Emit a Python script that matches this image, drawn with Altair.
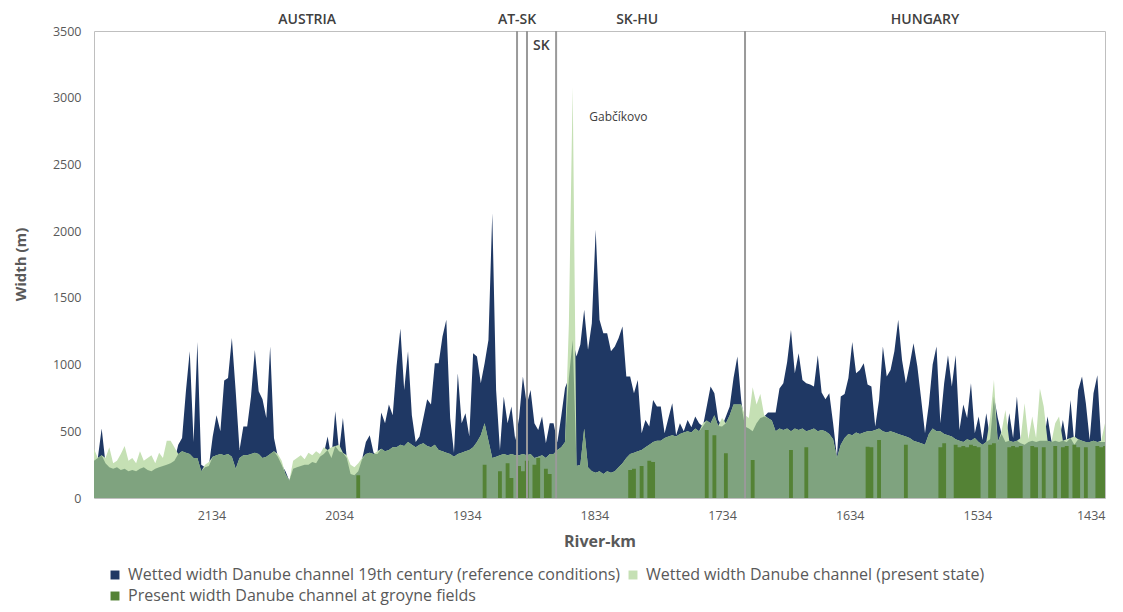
import altair as alt
import pandas as pd

# River-km positions (3 km spacing, from Austrian border downstream to km 1434)
km = list(range(2226, 1433, -3))

# Wetted width 19th century (reference conditions), m
ref_width = [
    280, 300, 520, 260, 230, 220, 230, 210, 220, 200,
    210, 200, 220, 230, 210, 200, 220, 230, 240, 250,
    260, 280, 400, 450, 800, 1100, 420, 1170, 250, 230,
    240, 460, 620, 500, 880, 900, 1200, 800, 360, 535,
    535, 760, 1110, 800, 740, 600, 1135, 450, 310, 250,
    200, 130, 220, 230, 240, 250, 250, 270, 260, 310,
    330, 460, 300, 650, 350, 600, 300, 180, 170, 200,
    290, 420, 470, 340, 330, 640, 560, 700, 620, 985,
    1270, 810, 1100, 620, 420, 460, 600, 740, 700, 1010,
    1010, 1210, 1335, 600, 340, 935, 560, 635, 460, 1085,
    1060, 860, 1010, 1185, 2135, 810, 360, 760, 560, 685,
    435, 600, 910, 700, 810, 560, 510, 610, 410, 560,
    560, 420, 610, 825, 900, 1185, 1060, 1150, 1410, 1110,
    1310, 2010, 1335, 1235, 1235, 1100, 1135, 1200, 1285, 910,
    910, 785, 885, 485, 585, 535, 735, 685, 685, 485,
    600, 710, 470, 560, 500, 585, 530, 610, 560, 535,
    685, 835, 785, 585, 535, 610, 685, 900, 1060, 735,
    535, 520, 500, 560, 600, 610, 640, 640, 640, 820,
    860, 1020, 1260, 935, 1085, 885, 860, 850, 835, 1070,
    790, 740, 785, 560, 310, 760, 780, 900, 1170, 935,
    960, 1010, 850, 835, 535, 735, 1135, 910, 960, 1100,
    1335, 1035, 860, 1000, 1160, 985, 740, 485, 700, 1000,
    1135, 560, 860, 1070, 835, 1070, 510, 700, 600, 860,
    485, 610, 435, 635, 440, 760, 600, 480, 420, 635,
    450, 760, 410, 400, 420, 430, 420, 430, 430, 610,
    430, 430, 420, 585, 420, 735, 400, 810, 910, 710,
    435, 785, 920, 420, 420,
]

# Wetted width present state, m
present_width = [
    370, 300, 320, 300, 380, 260, 280, 330, 390, 280,
    300, 260, 350, 280, 300, 320, 260, 340, 300, 430,
    430, 380, 330, 350, 340, 330, 300, 300, 200, 250,
    270, 310, 320, 330, 320, 330, 310, 220, 300, 320,
    320, 330, 340, 330, 300, 310, 330, 350, 330, 280,
    180, 130, 280, 300, 320, 290, 340, 320, 350, 330,
    380, 360, 380, 390, 400, 340, 320, 250, 230, 260,
    300, 330, 340, 330, 350, 370, 350, 360, 380, 380,
    400, 390, 420, 400, 380, 400, 410, 390, 380, 400,
    360, 350, 340, 330, 310, 330, 340, 350, 360, 380,
    420, 470, 560, 430, 300, 310, 320, 330, 320, 330,
    320, 320, 330, 320, 330, 300, 310, 320, 300, 330,
    330, 360, 380, 420, 1300, 3080, 240, 250, 520, 230,
    200, 190, 200, 180, 200, 190, 200, 230, 260, 300,
    330, 340, 350, 360, 380, 400, 420, 430, 430, 450,
    460, 470, 460, 480, 490, 500, 490, 520, 500, 560,
    580, 560, 620, 540, 600, 560, 620, 700, 700, 700,
    620, 600, 830, 700, 780, 620, 600, 580, 500, 520,
    510, 520, 500, 520, 510, 520, 500, 510, 520, 500,
    510, 500, 480, 440, 300, 400, 450, 480, 470, 490,
    480, 490, 500, 500, 510, 520, 500, 490, 500, 490,
    480, 470, 460, 450, 430, 420, 410, 400, 480, 520,
    500, 500, 480, 470, 460, 440, 430, 420, 440, 430,
    450, 420, 400, 420, 600, 885, 420, 500, 660, 430,
    420, 430, 450, 710, 440, 610, 450, 820, 685, 430,
    420, 560, 610, 430, 440, 450, 460, 440, 430, 420,
    420, 430, 420, 430, 560,
]

# Present width at groyne fields (only where groyne fields exist), m
groyne_km = [
    2019,
    1920, 1908, 1902, 1899, 1893, 1890, 1887, 1881, 1878, 1872, 1869,
    1806, 1803, 1797, 1791, 1788,
    1746, 1740, 1731, 1710,
    1680, 1668, 1620, 1617, 1611, 1590,
    1563, 1560, 1551, 1548, 1545, 1542, 1539,
    1536, 1533, 1524, 1521, 1509,
    1506, 1503, 1500, 1491, 1488, 1482,
    1473, 1467, 1464, 1458, 1455, 1449,
    1440, 1437, 1434,
]
groyne_vals = [
    170,
    250, 200, 260, 150, 240, 200, 280, 250, 300, 220, 180,
    210, 220, 240, 280, 270,
    510, 470, 335, 285,
    360, 380, 385, 380, 435, 400,
    380, 410, 400, 380, 390, 380, 400,
    390, 380, 400, 410, 380,
    390, 380, 390, 390, 380, 380,
    390, 380, 390, 400, 380, 380,
    390, 380, 390,
]

# Country / section boundaries (river-km)
boundary_km = [1894.6, 1886.8, 1864, 1716]

label_text = ["AUSTRIA", "AT-SK", "SK", "SK-HU", "HUNGARY"]
label_km = [2059, 1894.6, 1875.5, 1800.5, 1575]
label_val = [3585, 3585, 3390, 3585, 3585]

note_text = ["Gabčíkovo"]
note_km = [1838]
note_val = [2855]

x_ticks = [2134, 2034, 1934, 1834, 1734, 1634, 1534, 1434]
y_ticks = [0, 500, 1000, 1500, 2000, 2500, 3000, 3500]

series_names = [
    "Wetted width Danube channel 19th century (reference conditions)",
    "Wetted width Danube channel (present state)",
    "Present width Danube channel at groyne fields",
]
series_colors = ["#1f3864", "#c5e0b4", "#548235"]
overlap_color = "#7fa37f"   # present-state fill seen over the 19th-century fill

assert len(km) == len(ref_width) == len(present_width)

df = pd.DataFrame({"km": km, "ref": ref_width, "present": present_width})
g = pd.DataFrame({"km": groyne_km, "groyne": groyne_vals})
df = df.merge(g, on="km", how="left").fillna({"groyne": 0})

FONT = "Open Sans"
TXT = "#595959"

x_scale = alt.Scale(domain=[1434, 2226], reverse=True, nice=False, zero=False)
x_enc = alt.X(
    "km:Q",
    scale=x_scale,
    axis=alt.Axis(
        values=x_ticks, format="d", title="River-km", grid=False, domain=False,
        ticks=False, labelPadding=11, labelFontSize=12.5, labelColor=TXT,
        labelFont=FONT, titleFont=FONT, titleFontSize=16, titleFontWeight="bold",
        titleColor=TXT, titleY=43, titleBaseline="middle",
    ),
)
y_scale = alt.Scale(domain=[0, 3500], nice=False)
y_axis = alt.Axis(
    values=y_ticks, format="d", title="Width (m)", grid=False, domain=False, ticks=False,
    labelPadding=13, labelFontSize=12.5, labelColor=TXT, labelFont=FONT,
    titleFont=FONT, titleFontSize=15, titleFontWeight="bold", titleColor=TXT,
    titleX=-74, titleY=233, titleAngle=270, titleAlign="center", titleBaseline="middle",
)

color_scale = alt.Scale(domain=series_names, range=series_colors)
legend = alt.Legend(
    orient="none", legendX=13, legendY=536, direction="horizontal", columns=2,
    title=None, symbolType="square", symbolSize=80, symbolStrokeWidth=0,
    symbolOpacity=1, labelFont=FONT, labelFontSize=16, labelColor=TXT, labelLimit=800,
    columnPadding=4, rowPadding=5, labelOffset=5,
)
color_enc = alt.Color("series:N", scale=color_scale, legend=legend)

base = alt.Chart(df)

ref_layer = base.transform_calculate(series="'" + series_names[0] + "'").mark_area(
    interpolate="linear"
).encode(x=x_enc, y=alt.Y("ref:Q", scale=y_scale, axis=y_axis), color=color_enc)

present_layer = base.transform_calculate(series="'" + series_names[1] + "'").mark_area(
    interpolate="linear"
).encode(x=x_enc, y=alt.Y("present:Q", scale=y_scale, axis=y_axis), color=color_enc)

overlap_layer = base.transform_calculate(lo="min(datum.ref, datum.present)").mark_area(
    interpolate="linear", color=overlap_color
).encode(x=x_enc, y=alt.Y("lo:Q", scale=y_scale, axis=y_axis))

groyne_layer = base.transform_calculate(series="'" + series_names[2] + "'").mark_area(
    interpolate="step"
).encode(x=x_enc, y=alt.Y("groyne:Q", scale=y_scale, axis=y_axis), color=color_enc)

rules = alt.Chart(pd.DataFrame({"km": boundary_km})).mark_rule(
    color="#9a9a9a", strokeWidth=2
).encode(x=alt.X("km:Q", scale=x_scale))

labels = alt.Chart(pd.DataFrame({"t": label_text, "km": label_km, "v": label_val})).mark_text(
    font=FONT, fontSize=14, fontWeight=600, color="#404040", align="center", baseline="middle"
).encode(
    x=alt.X("km:Q", scale=x_scale),
    y=alt.Y("v:Q", scale=y_scale),
    text="t:N",
)

notes = alt.Chart(pd.DataFrame({"t": note_text, "km": note_km, "v": note_val})).mark_text(
    font=FONT, fontSize=12, color="#404040", align="left", baseline="middle"
).encode(
    x=alt.X("km:Q", scale=x_scale),
    y=alt.Y("v:Q", scale=y_scale),
    text="t:N",
)

chart = alt.layer(
    ref_layer, present_layer, overlap_layer, groyne_layer, rules, labels, notes
).properties(
    width=1011,
    height=467,
    autosize=alt.AutoSizeParams(type="none"),
    padding={"left": 86, "top": 23, "right": 10, "bottom": 110},
    background="white",
).configure_view(stroke="#bfbfbf", strokeWidth=1)

chart.save("out.html", embed_options={"renderer": "svg", "actions": False})
